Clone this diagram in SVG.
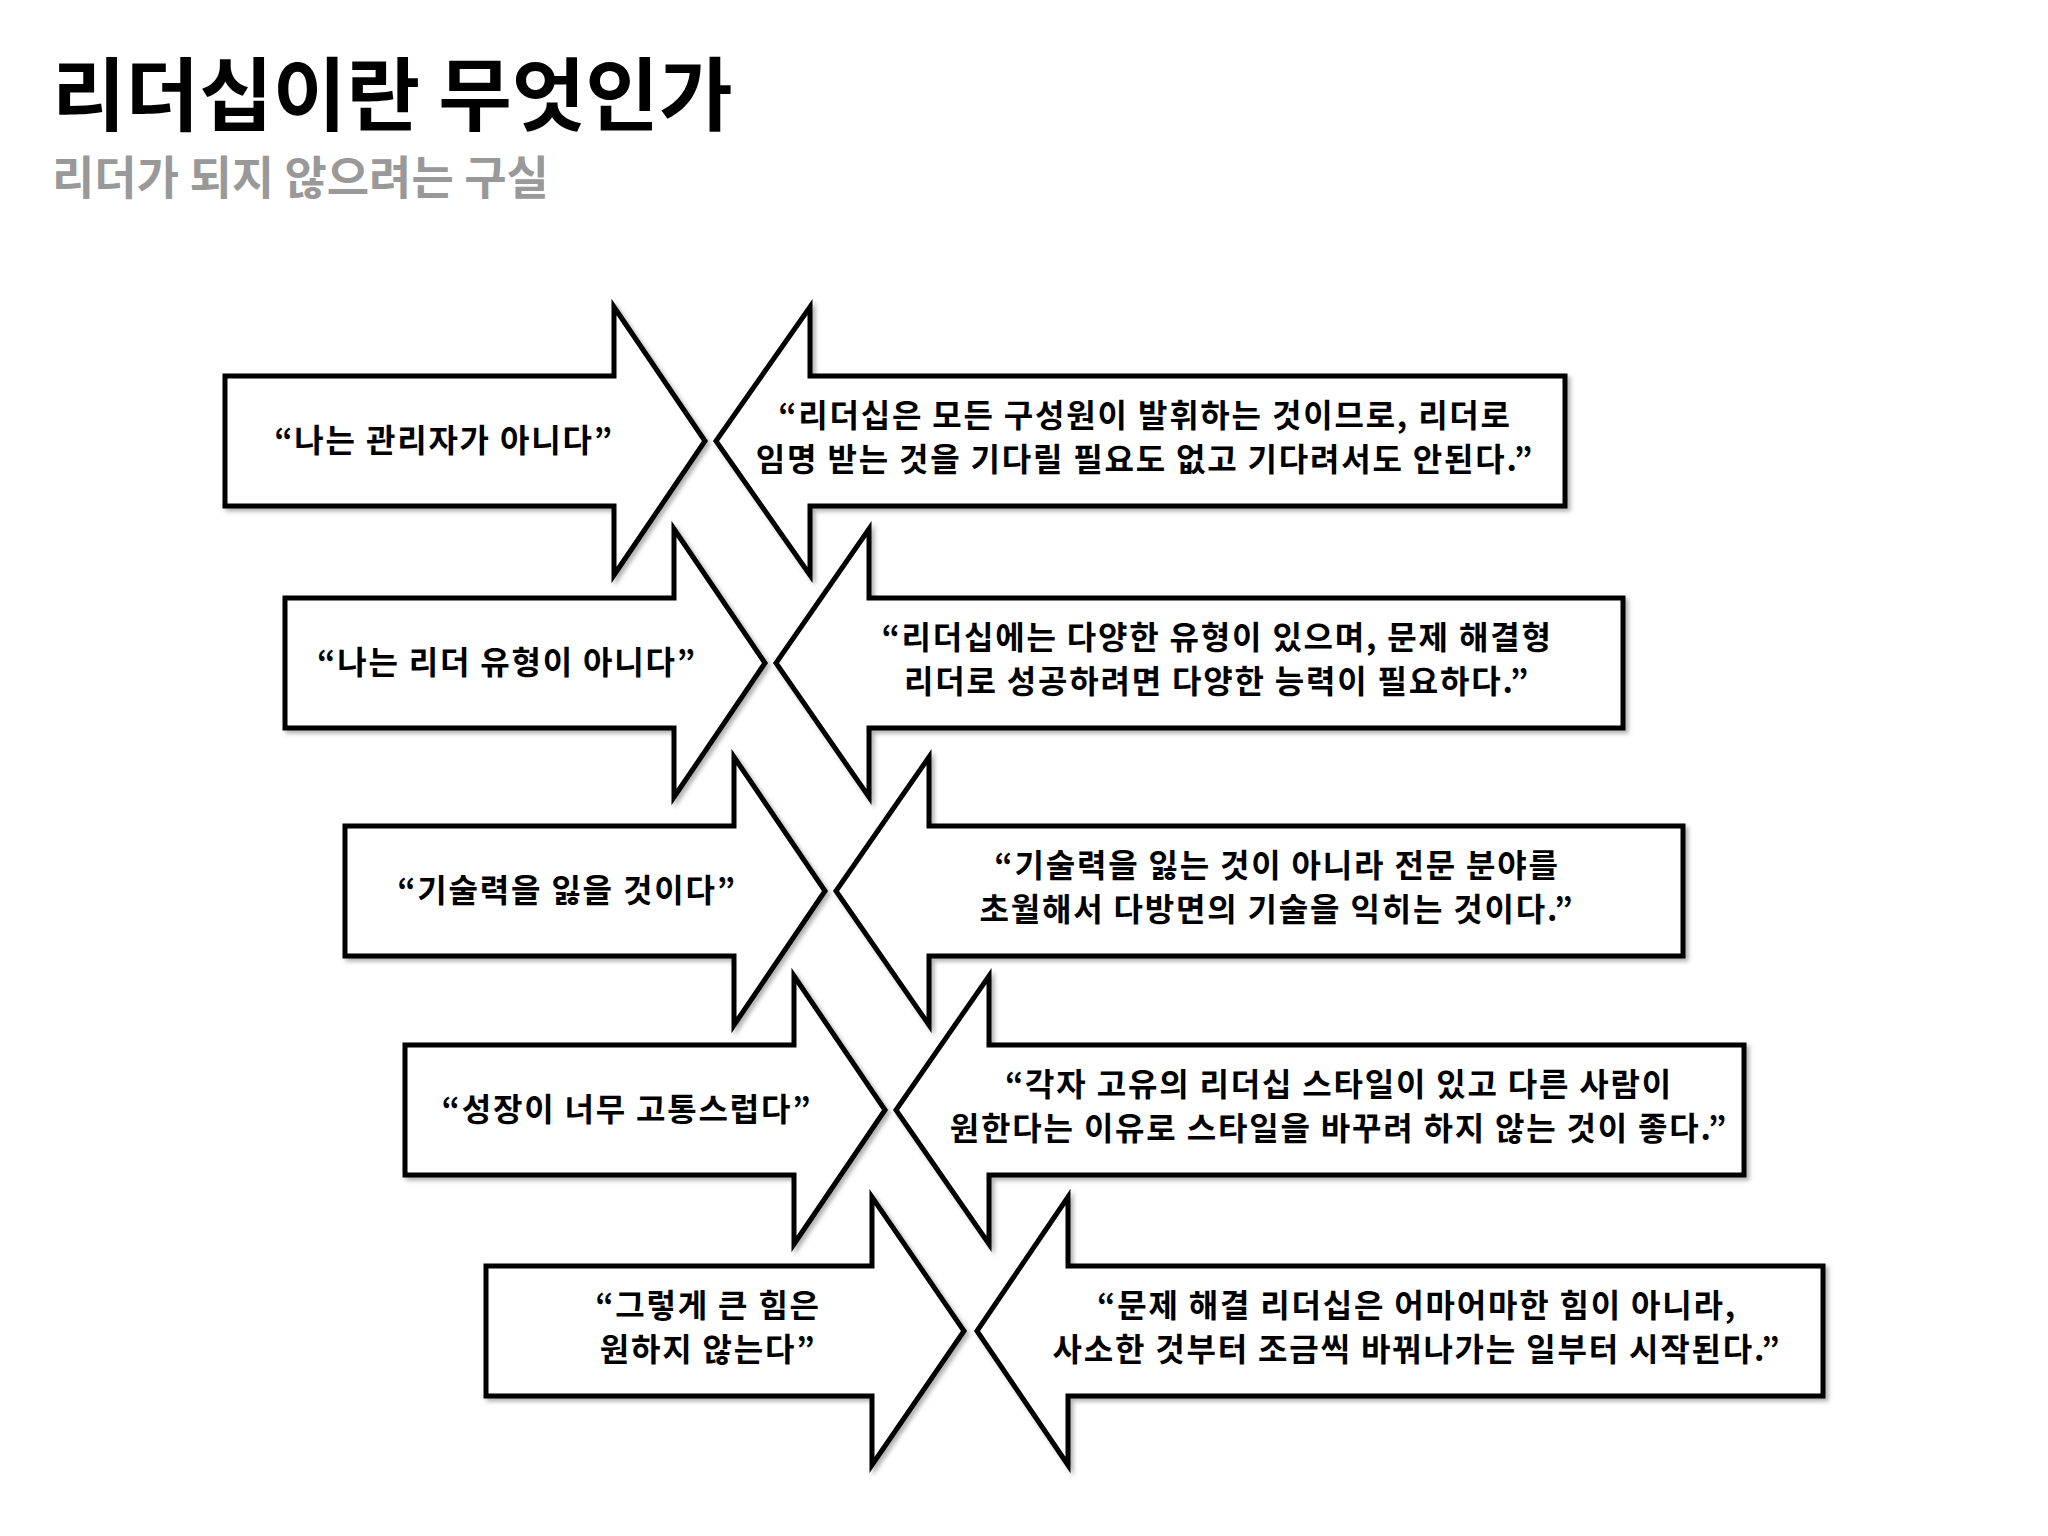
<svg xmlns="http://www.w3.org/2000/svg" width="2048" height="1536" viewBox="0 0 2048 1536">
<style>
.a{fill:#fff;stroke:#000;stroke-width:5;filter:url(#sh)}
.t{font-family:"Noto Sans CJK KR","Noto Sans",sans-serif;font-weight:bold;font-size:32px;letter-spacing:1.8px;fill:#000;text-anchor:middle}
</style>
<defs><filter id="sh" x="-10%" y="-10%" width="120%" height="120%"><feDropShadow dx="3" dy="3" stdDeviation="2" flood-color="#000" flood-opacity="0.3"/></filter></defs>
<rect width="2048" height="1536" fill="#fff"/>
<text x="52" y="124" font-family="'Noto Sans CJK KR',sans-serif" font-weight="bold" font-size="80">리더십이란 무엇인가</text>
<text x="52" y="194" font-family="'Noto Sans CJK KR',sans-serif" font-weight="bold" font-size="46" fill="#999">리더가 되지 않으려는 구실</text>
<g id="r1">
<polygon class="a" points="225,376 614,376 614,307 705,441 614,575 614,506 225,506"/>
<text class="t" x="444" y="452">“나는 관리자가 아니다”</text>
<polygon class="a" points="1565,376 810,376 810,307 716,441 810,575 810,506 1565,506"/>
<text class="t" x="1145" y="427">“리더십은 모든 구성원이 발휘하는 것이므로, 리더로</text>
<text class="t" x="1145" y="471">임명 받는 것을 기다릴 필요도 없고 기다려서도 안된다.”</text>
</g>
<g id="r2">
<polygon class="a" points="285,598 674,598 674,529 765,663 674,797 674,728 285,728"/>
<text class="t" x="507" y="674">“나는 리더 유형이 아니다”</text>
<polygon class="a" points="1623,598 869,598 869,529 776,663 869,797 869,728 1623,728"/>
<text class="t" x="1217" y="649">“리더십에는 다양한 유형이 있으며, 문제 해결형</text>
<text class="t" x="1217" y="693">리더로 성공하려면 다양한 능력이 필요하다.”</text>
</g>
<g id="r3">
<polygon class="a" points="345,826 734,826 734,757 825,891 734,1025 734,956 345,956"/>
<text class="t" x="567" y="902">“기술력을 잃을 것이다”</text>
<polygon class="a" points="1683,826 929,826 929,757 836,891 929,1025 929,956 1683,956"/>
<text class="t" x="1277" y="877">“기술력을 잃는 것이 아니라 전문 분야를</text>
<text class="t" x="1277" y="921">초월해서 다방면의 기술을 익히는 것이다.”</text>
</g>
<g id="r4">
<polygon class="a" points="405,1045 794,1045 794,976 885,1110 794,1244 794,1175 405,1175"/>
<text class="t" x="627" y="1121">“성장이 너무 고통스럽다”</text>
<polygon class="a" points="1744,1045 989,1045 989,976 896,1110 989,1244 989,1175 1744,1175"/>
<text class="t" x="1339" y="1096">“각자 고유의 리더십 스타일이 있고 다른 사람이</text>
<text class="t" x="1339" y="1140">원한다는 이유로 스타일을 바꾸려 하지 않는 것이 좋다.”</text>
</g>
<g id="r5">
<polygon class="a" points="486,1266 872,1266 872,1197 964,1331 872,1465 872,1396 486,1396"/>
<text class="t" x="708" y="1317">“그렇게 큰 힘은</text>
<text class="t" x="708" y="1361">원하지 않는다”</text>
<polygon class="a" points="1823,1266 1068,1266 1068,1197 977,1331 1068,1465 1068,1396 1823,1396"/>
<text class="t" x="1417" y="1317">“문제 해결 리더십은 어마어마한 힘이 아니라,</text>
<text class="t" x="1417" y="1361">사소한 것부터 조금씩 바꿔나가는 일부터 시작된다.”</text>
</g>
<g id="connectors"/>
</svg>
